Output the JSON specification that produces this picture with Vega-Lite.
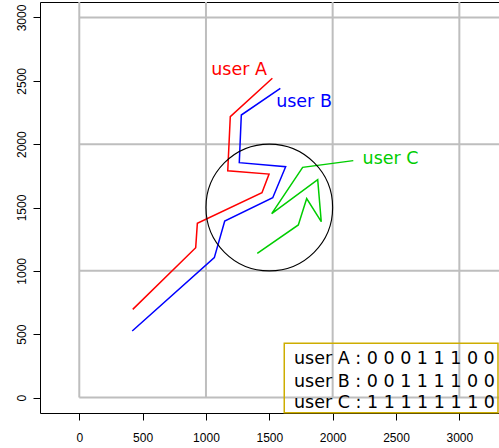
{
  "$schema": "https://vega.github.io/schema/vega-lite/v6.json",
  "width": 459,
  "height": 411,
  "autosize": "none",
  "padding": {"left": 40, "top": 2, "right": 0, "bottom": 35},
  "background": "white",
  "config": {
    "view": {"stroke": "#000000", "strokeWidth": 1},
    "axis": {"domain": false, "grid": false, "ticks": true, "tickColor": "#000000", "tickSize": 7, "tickWidth": 1, "labelFont": "Liberation Sans", "labelFontSize": 12, "labelColor": "#000000", "title": null, "format": "d"}
  },
  "datasets": {
    "paths": [
      {"user": "A", "i": 1, "x": 422, "y": 696},
      {"user": "A", "i": 2, "x": 919, "y": 1183},
      {"user": "A", "i": 3, "x": 932, "y": 1375},
      {"user": "A", "i": 4, "x": 1442, "y": 1617},
      {"user": "A", "i": 5, "x": 1498, "y": 1764},
      {"user": "A", "i": 6, "x": 1172, "y": 1790},
      {"user": "A", "i": 7, "x": 1192, "y": 2217},
      {"user": "A", "i": 8, "x": 1524, "y": 2520},
      {"user": "B", "i": 1, "x": 418, "y": 525},
      {"user": "B", "i": 2, "x": 1066, "y": 1104},
      {"user": "B", "i": 3, "x": 1148, "y": 1393},
      {"user": "B", "i": 4, "x": 1527, "y": 1577},
      {"user": "B", "i": 5, "x": 1629, "y": 1822},
      {"user": "B", "i": 6, "x": 1263, "y": 1854},
      {"user": "B", "i": 7, "x": 1279, "y": 2230},
      {"user": "B", "i": 8, "x": 1587, "y": 2441},
      {"user": "C", "i": 1, "x": 1405, "y": 1138},
      {"user": "C", "i": 2, "x": 1729, "y": 1362},
      {"user": "C", "i": 3, "x": 1795, "y": 1570},
      {"user": "C", "i": 4, "x": 1910, "y": 1388},
      {"user": "C", "i": 5, "x": 1882, "y": 1720},
      {"user": "C", "i": 6, "x": 1519, "y": 1451},
      {"user": "C", "i": 7, "x": 1763, "y": 1817},
      {"user": "C", "i": 8, "x": 2163, "y": 1870}
    ],
    "grid": [
      {"g": 0, "from": 0, "to": 4000},
      {"g": 1000, "from": 0, "to": 4000},
      {"g": 2000, "from": 0, "to": 4000},
      {"g": 3000, "from": 0, "to": 4000}
    ],
    "labels": [
      {"user": "A", "label": "user A", "x": 1261, "y": 2546},
      {"user": "B", "label": "user B", "x": 1774, "y": 2296},
      {"user": "C", "label": "user C", "x": 2457, "y": 1841}
    ],
    "legendtext": [
      {"label": "user A : 0 0 0 1 1 1 0 0", "x": 1695, "y": 262},
      {"label": "user B : 0 0 1 1 1 1 0 0", "x": 1695, "y": 85},
      {"label": "user C : 1 1 1 1 1 1 1 0", "x": 1695, "y": -85}
    ],
    "legendbox": [{"x": 1618, "x2": 3305, "y": 428, "y2": -120}],
    "circle": [{"x": 1500, "y": 1500}]
  },
  "layer": [
    {
      "data": {"name": "grid"},
      "mark": {"type": "rule", "color": "#BEBEBE", "strokeWidth": 2, "clip": true},
      "encoding": {
        "x": {"field": "g", "type": "quantitative", "scale": {"domain": [-310, 3313], "nice": false, "zero": false}, "axis": {"values": [0, 500, 1000, 1500, 2000, 2500, 3000], "labelPadding": 12, "labelAngle": 0}},
        "y": {"field": "from", "type": "quantitative", "scale": {"domain": [-122, 3122], "nice": false, "zero": false}, "axis": {"values": [0, 500, 1000, 1500, 2000, 2500, 3000], "labelAngle": 270, "labelAlign": "center", "labelBaseline": "alphabetic", "labelPadding": 8}},
        "y2": {"field": "to"}
      }
    },
    {
      "data": {"name": "grid"},
      "mark": {"type": "rule", "color": "#BEBEBE", "strokeWidth": 2, "clip": true},
      "encoding": {
        "y": {"field": "g", "type": "quantitative"},
        "x": {"field": "from", "type": "quantitative"},
        "x2": {"field": "to"}
      }
    },
    {
      "data": {"name": "paths"},
      "mark": {"type": "line", "strokeWidth": 1.5},
      "encoding": {
        "x": {"field": "x", "type": "quantitative"},
        "y": {"field": "y", "type": "quantitative"},
        "order": {"field": "i", "type": "quantitative"},
        "color": {"field": "user", "type": "nominal", "scale": {"domain": ["A", "B", "C"], "range": ["#FF0000", "#0000FF", "#00CD00"]}, "legend": null}
      }
    },
    {
      "data": {"name": "circle"},
      "mark": {"type": "point", "shape": "circle", "filled": false, "stroke": "#000000", "strokeWidth": 1.1, "size": 16050, "opacity": 1},
      "encoding": {
        "x": {"field": "x", "type": "quantitative"},
        "y": {"field": "y", "type": "quantitative"}
      }
    },
    {
      "data": {"name": "labels"},
      "mark": {"type": "text", "font": "DejaVu Sans", "fontSize": 17.5, "align": "center", "baseline": "alphabetic"},
      "encoding": {
        "x": {"field": "x", "type": "quantitative"},
        "y": {"field": "y", "type": "quantitative"},
        "text": {"field": "label"},
        "color": {"field": "user", "type": "nominal", "legend": null}
      }
    },
    {
      "data": {"name": "legendbox"},
      "mark": {"type": "rect", "fill": null, "fillOpacity": 0, "stroke": "#CDAD00", "strokeWidth": 1.5},
      "encoding": {
        "x": {"field": "x", "type": "quantitative"},
        "x2": {"field": "x2"},
        "y": {"field": "y", "type": "quantitative"},
        "y2": {"field": "y2"}
      }
    },
    {
      "data": {"name": "legendtext"},
      "mark": {"type": "text", "font": "DejaVu Sans", "fontSize": 17.5, "align": "left", "baseline": "alphabetic", "color": "#000000"},
      "encoding": {
        "x": {"field": "x", "type": "quantitative"},
        "y": {"field": "y", "type": "quantitative"},
        "text": {"field": "label"}
      }
    }
  ]
}
